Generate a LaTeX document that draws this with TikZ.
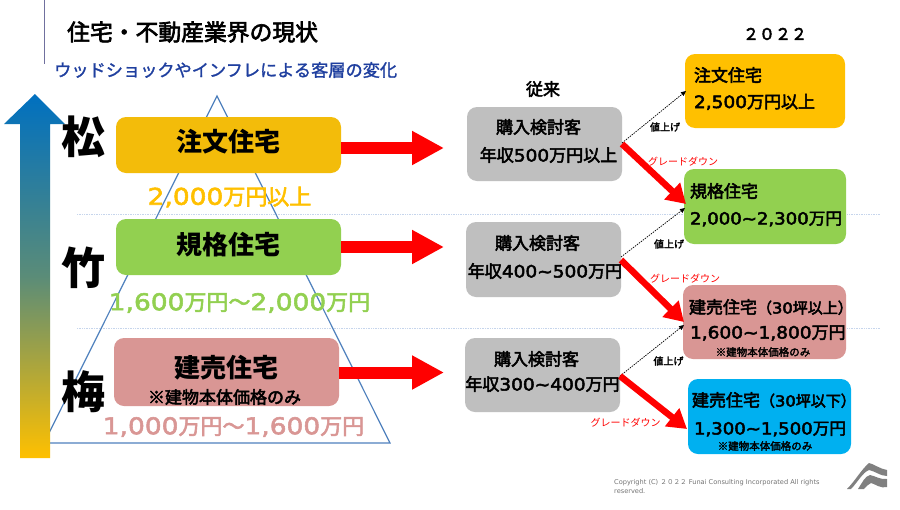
\documentclass[tikz,border=0pt]{standalone}
\usepackage{fontspec}
\usetikzlibrary{arrows.meta}
\setmainfont{Noto Sans CJK JP}
\newfontfamily\lat{DejaVu Sans}
\newfontfamily\latS[FakeStretch=1.09]{DejaVu Sans}
\newfontfamily\latw[FakeStretch=1.15]{DejaVu Sans}
\definecolor{cOrange}{HTML}{F3BC0A}
\definecolor{cAmber}{HTML}{FFC000}
\definecolor{cGreen}{HTML}{92D050}
\definecolor{cPink}{HTML}{D99694}
\definecolor{cGray}{HTML}{BFBFBF}
\definecolor{cSky}{HTML}{00B0F0}
\definecolor{cTri}{HTML}{4F81BD}
\definecolor{cNavy}{HTML}{1F3F9F}
\definecolor{cGrid}{HTML}{C6D5EC}
\definecolor{cRule}{HTML}{70709E}
\definecolor{cTop}{HTML}{0070C0}
\definecolor{cMid}{HTML}{5A8C78}
\newcommand{\fs}[1]{\fontsize{#1}{#1}\selectfont}
\newcommand{\D}[1]{{\latS #1}}
\newcommand{\W}[1]{{\fs{23}\latw #1}}
\tikzset{
  x=1pt,y=-1pt,
  box/.style={rounded corners=10pt,inner sep=0pt,outer sep=0pt,anchor=north west},
  stroked/.style={execute at begin node={\special{pdf:code 2 Tr #1 w}},execute at end node={\special{pdf:code 0 Tr}}},
  txt/.style={inner sep=0pt,outer sep=0pt,text=black,stroked=0.5},
  small/.style={inner sep=0pt,outer sep=0pt,text=black,stroked=0.25},
  hvy/.style={inner sep=0pt,outer sep=0pt,text=black,font=\bfseries},
  rng/.style={inner sep=0pt,outer sep=0pt,stroked=0.55},
  big/.style={line width=12pt,draw=red,-{Triangle[length=32pt,width=32pt]}},
  downarrow/.style={line width=6.5pt,draw=red,-{Triangle[length=19pt,width=22pt]}},
  rise/.style={line width=.7pt,dash pattern=on 1.5pt off 1pt,draw=black,-{Triangle[length=5pt,width=4.5pt]}},
}
\newcommand{\bx}[6]{\node[box,fill=#6,minimum width=#4pt-#2pt,minimum height=#5pt-#3pt] (#1) at (#2,#3) {};}
\begin{document}
\begin{tikzpicture}
\useasboundingbox (0,0) rectangle (900,509);
\fill[white] (0,0) rectangle (900,509);
% grid lines
\coordinate (g1a) at (77,214); \coordinate (g1b) at (880,214);
\coordinate (g2a) at (77,328); \coordinate (g2b) at (880,328);
\draw[cGrid,line width=.7pt,densely dotted] (g1a) -- (g1b);
\draw[cGrid,line width=.7pt,densely dotted] (g2a) -- (g2b);
% title rule
\coordinate (ra) at (44,0); \coordinate (rb) at (44,64);
\draw[cRule,line width=.9pt] (ra) -- (rb);
% pyramid
\coordinate (ta) at (217,96); \coordinate (tb) at (390,443); \coordinate (tc) at (44,443);
\draw[cTri,line width=1.2pt,line join=miter] (ta) -- (tb) -- (tc) -- cycle;
% left boxes
\bx{L1}{116}{117}{341}{173}{cOrange}
\bx{L2}{116}{219}{341}{275}{cGreen}
\bx{L3}{114}{338}{339}{406}{cPink}
% gray boxes
\bx{G1}{467}{107}{622}{181}{cGray}
\bx{G2}{466}{222}{621}{297}{cGray}
\bx{G3}{465}{338}{620}{412}{cGray}
% right boxes
\bx{R1}{685}{54}{845}{128}{cAmber}
\bx{R2}{684}{169}{846}{244}{cGreen}
\bx{R3}{683}{285}{846}{359}{cPink}
\bx{R4}{688}{379}{851}{454}{cSky}
% big arrows
\coordinate (b1) at (444,148); \coordinate (b2) at (444,247); \coordinate (b3) at (444,372.5);
\draw[big] (L1.east |- b1) -- (b1);
\draw[big] (L2.east |- b2) -- (b2);
\draw[big] (L3.east |- b3) -- (b3);
% side arrow
\shade[top color=cTop,bottom color=cAmber,middle color=cMid]
  (35,94) -- (65,124) -- (50,124) -- (50,458) -- (20,458) -- (20,124) -- (4,124) -- cycle;
% connectors
\coordinate (c1) at (686,91); \coordinate (c2) at (685,208); \coordinate (c3) at (684,325);
\draw[rise] (G1.east |- 0,143) -- (c1);
\draw[rise] (G2.east |- 0,257) -- (c2);
\draw[rise] (G3.east |- 0,376) -- (c3);
\coordinate (d1) at (686,204); \coordinate (d2) at (684,322); \coordinate (d3) at (687,429);
\draw[downarrow] (G1.east |- 0,144) -- (d1);
\draw[downarrow] (G2.east |- 0,260) -- (d2);
\draw[downarrow] (G3.east |- 0,376) -- (d3);
% texts
\node[inner sep=0pt,text=black,stroked=0.65,anchor=west] (title) at (67,32) {\fs{22.8}住宅・不動産業界の現状};
\node[anchor=west,inner sep=0pt,text=cNavy,stroked=0.25] (sub) at (54,70) {\fs{17.2}ウッドショックやインフレによる客層の変化};
\node[hvy] (matsu) at (83.5,137) {\fs{44}松};
\node[hvy] (take) at (83.5,268) {\fs{44}竹};
\node[hvy] (ume) at (83.5,392) {\fs{44}梅};
\node[hvy] at (228,142) {\fs{26}注文住宅};
\node[hvy] at (228,245) {\fs{26}規格住宅};
\node[hvy] at (226,368) {\fs{26}建売住宅};
\node[txt] at (224.5,397) {\fs{17}※建物本体価格のみ};
\node[rng,text=cAmber] at (229.5,197) {\fs{22}\W{2,000}万円以上};
\node[rng,text=cGreen] at (239.5,303) {\fs{22}\W{1,600}万円〜\W{2,000}万円};
\node[rng,text=cPink] at (233.5,427) {\fs{22}\W{1,000}万円〜\W{1,600}万円};
\node[txt] at (543,89) {\fs{17}従来};
\node[txt] at (775,34) {\fs{16}２０２２};
\node[txt] at (538.5,127) {\fs{17}購入検討客};
\node[txt] at (548.5,155) {\fs{17}年収\D{500}万円以上};
\node[txt] at (537.5,243) {\fs{17}購入検討客};
\node[txt] at (545,271) {\fs{17}年収\D{400\textasciitilde500}万円};
\node[txt] at (536.5,359) {\fs{17}購入検討客};
\node[txt] at (542.5,384) {\fs{17}年収\D{300\textasciitilde400}万円};
\node[txt,anchor=west] at (694,75) {\fs{17}注文住宅};
\node[txt,anchor=west] at (694,102) {\fs{17}\D{2,500}万円以上};
\node[txt,anchor=west] at (690,191) {\fs{17}規格住宅};
\node[txt,anchor=west] at (690,219) {\fs{16.6}\D{2,000\textasciitilde2,300}万円};
\node[txt,anchor=west] at (689,307) {\fs{17}建売住宅\fs{15}（\D{30}坪以上）};
\node[txt,anchor=west] at (690,333) {\fs{17}\D{1,600\textasciitilde 1,800}万円};
\node[small] at (763,352) {\fs{10.5}※建物本体価格のみ};
\node[txt,anchor=west] at (692,400) {\fs{17}建売住宅\fs{15}（\D{30}坪以下）};
\node[txt,anchor=west] at (694,429) {\fs{16.6}\D{1,300\textasciitilde1,500}万円};
\node[small] at (765,446) {\fs{10.5}※建物本体価格のみ};
\node[small] at (665,127) {\fs{10}値上げ};
\node[small] at (669,244) {\fs{10}値上げ};
\node[small] at (668.5,361) {\fs{10}値上げ};
\node[inner sep=0pt,text=red] at (683,162) {\fs{10}グレードダウン};
\node[inner sep=0pt,text=red] at (685,279) {\fs{10}グレードダウン};
\node[inner sep=0pt,text=red] at (625.5,423) {\fs{10}グレードダウン};
\node[anchor=north west,inner sep=0pt,text=black!55,align=left,font=\fontsize{6.6}{9}\selectfont\lat] at (614,479.5) {Copyright (C) {\rmfamily ２０２２} Funai Consulting Incorporated All rights\\reserved.};
% logo
\fill[black!50] (847,489) .. controls (855,481) and (861,470) .. (869,463) .. controls (874,464) and (880,469) .. (887,470) -- (887,476) .. controls (880,476) and (875,471) .. (869,470) .. controls (863,472) and (857,483) .. (851,489) -- cycle;
\fill[black!50] (858,489) .. controls (862,483) and (865,476) .. (870,475) .. controls (875,476) and (881,480) .. (887,479) -- (887,487) .. controls (881,489) and (875,484) .. (871,483) .. controls (868,484) and (866,487) .. (864,489) -- cycle;
\end{tikzpicture}
\end{document}
